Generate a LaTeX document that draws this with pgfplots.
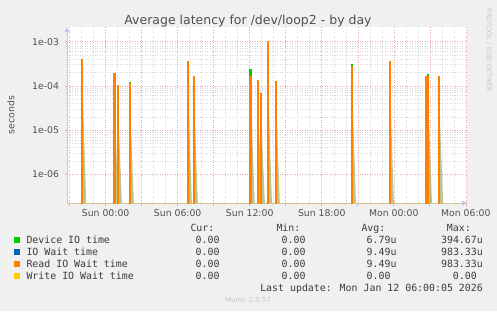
\documentclass[border=0pt]{standalone}
\usepackage{fontspec}
\setmainfont{DejaVu Sans}
\newfontfamily\monofont{DejaVu Sans Mono}
\usepackage{pgfplots}
\pgfplotsset{compat=1.18}
\usetikzlibrary{arrows.meta}
\definecolor{bg}{HTML}{F0F0F0}
\definecolor{txt}{HTML}{505050}
\definecolor{legtxt}{HTML}{3C3C3C}
\definecolor{devc}{HTML}{00CC00}
\definecolor{waitc}{HTML}{0066B3}
\definecolor{readc}{HTML}{FF8000}
\definecolor{writec}{HTML}{FFCC00}
\definecolor{majgrid}{HTML}{E8A8A8}
\definecolor{mingrid}{HTML}{D8D8D8}
\definecolor{axisblue}{HTML}{C0C8E8}
\definecolor{axistan}{HTML}{DCC896}
\definecolor{olive}{HTML}{8CA040}
\begin{document}
\begin{tikzpicture}[x=1pt,y=1pt]
\fill[bg] (0,0) rectangle (497,311);
\useasboundingbox (0,0) rectangle (497,311);
\begin{axis}[
  at={(67pt,108pt)}, anchor=south west,
  scale only axis, width=400pt, height=176pt,
  xmin=-3.22, xmax=30.1,
  ymode=log, ymin=2.25e-7, ymax=2.14e-3,
  axis lines=left,
  axis background/.style={fill=white},
  x axis line style={draw=axistan, line width=1pt, -{Triangle[width=5pt,length=5pt,color=axisblue,fill=axisblue]}},
  y axis line style={draw=axisblue, line width=0.8pt, -{Triangle[width=5pt,length=5pt,color=axisblue,fill=axisblue]}},
  xtick={-3,0,3,6,9,12,15,18,21,24,27,30},
  xticklabels={,Sun 00:00,,Sun 06:00,,Sun 12:00,,Sun 18:00,,Mon 00:00,,Mon 06:00},
  minor x tick num=2,
  ytick={1e-6,1e-5,1e-4,1e-3},
  yticklabels={1e-06,1e-05,1e-04,1e-03},
  xmajorgrids, xminorgrids, ymajorgrids, yminorgrids,
  major grid style={draw=majgrid, dash pattern=on 1pt off 1.5pt, line width=0.5pt},
  minor grid style={draw=mingrid, dash pattern=on 1pt off 1.5pt, line width=0.5pt},
  tick align=outside,
  major tick length=2.5pt, minor tick length=1.5pt,
  major tick style={draw=majgrid, line width=0.6pt},
  minor tick style={draw=mingrid, line width=0.6pt},
  ticklabel style={font=\fontsize{9.3}{10}\selectfont, text=txt},
  xticklabel style={yshift=-1pt},
  yticklabel style={xshift=-2pt},
  clip=true,
]
% olive wedges (Device IO time shading)
\addplot[draw=none, fill=olive, fill opacity=0.6] coordinates {
(-2.00,2.25e-7)(-2.00,3.95e-4)(-1.62,2.25e-7)
(0.67,2.25e-7)(0.67,1.6e-4)(1.05,2.25e-7)
(0.97,2.25e-7)(0.97,9e-5)(1.35,2.25e-7)
(1.97,2.25e-7)(1.97,1.16e-4)(2.35,2.25e-7)
(6.80,2.25e-7)(6.80,3.0e-4)(7.18,2.25e-7)
(7.30,2.25e-7)(7.30,1.4e-4)(7.68,2.25e-7)
(12.03,2.25e-7)(12.03,2.38e-4)(12.41,2.25e-7)
(12.63,2.25e-7)(12.63,1.2e-4)(13.01,2.25e-7)
(12.88,2.25e-7)(12.88,6e-5)(13.26,2.25e-7)
(13.47,2.25e-7)(13.47,3.5e-4)(13.85,2.25e-7)
(14.13,2.25e-7)(14.13,1.1e-4)(14.51,2.25e-7)
(20.47,2.25e-7)(20.47,2.98e-4)(20.85,2.25e-7)
(23.63,2.25e-7)(23.63,3.2e-4)(24.01,2.25e-7)
(26.63,2.25e-7)(26.63,1.5e-4)(27.01,2.25e-7)
(26.80,2.25e-7)(26.80,1.78e-4)(27.18,2.25e-7)
(27.72,2.25e-7)(27.72,1.5e-4)(28.10,2.25e-7)
} -- cycle;
% Device IO time
\addplot[devc, line width=1.3pt] coordinates {
(-2.00,1e-9)(-2.00,3.95e-4)(-1.90,3.95e-4)(-1.90,1e-9)
(0.67,1e-9)(0.67,1.6e-4)(0.77,1.6e-4)(0.77,1e-9)
(0.97,1e-9)(0.97,9e-5)(1.07,9e-5)(1.07,1e-9)
(1.97,1e-9)(1.97,1.16e-4)(2.07,1.16e-4)(2.07,1e-9)
(6.80,1e-9)(6.80,3.0e-4)(6.90,3.0e-4)(6.90,1e-9)
(7.30,1e-9)(7.30,1.4e-4)(7.40,1.4e-4)(7.40,1e-9)
(12.03,1e-9)(12.03,2.38e-4)(12.13,2.38e-4)(12.13,1e-9)
(12.63,1e-9)(12.63,1.2e-4)(12.73,1.2e-4)(12.73,1e-9)
(12.88,1e-9)(12.88,6e-5)(12.98,6e-5)(12.98,1e-9)
(13.47,1e-9)(13.47,3.5e-4)(13.57,3.5e-4)(13.57,1e-9)
(14.13,1e-9)(14.13,1.1e-4)(14.23,1.1e-4)(14.23,1e-9)
(20.47,1e-9)(20.47,2.98e-4)(20.57,2.98e-4)(20.57,1e-9)
(23.63,1e-9)(23.63,3.2e-4)(23.73,3.2e-4)(23.73,1e-9)
(26.63,1e-9)(26.63,1.5e-4)(26.73,1.5e-4)(26.73,1e-9)
(26.80,1e-9)(26.80,1.78e-4)(26.90,1.78e-4)(26.90,1e-9)
(27.72,1e-9)(27.72,1.5e-4)(27.82,1.5e-4)(27.82,1e-9)
};
% IO Wait time (same as Read IO Wait time)
\addplot[waitc, line width=1.3pt] coordinates {
(-2.00,1e-9)(-2.00,4.0e-4)(-1.90,4.0e-4)(-1.90,1e-9)
(0.67,1e-9)(0.67,1.87e-4)(0.77,1.87e-4)(0.77,1e-9)
(0.97,1e-9)(0.97,1.02e-4)(1.07,1.02e-4)(1.07,1e-9)
(1.97,1e-9)(1.97,1.11e-4)(2.07,1.11e-4)(2.07,1e-9)
(6.80,1e-9)(6.80,3.48e-4)(6.90,3.48e-4)(6.90,1e-9)
(7.30,1e-9)(7.30,1.58e-4)(7.40,1.58e-4)(7.40,1e-9)
(12.03,1e-9)(12.03,1.63e-4)(12.13,1.63e-4)(12.13,1e-9)
(12.63,1e-9)(12.63,1.30e-4)(12.73,1.30e-4)(12.73,1e-9)
(12.88,1e-9)(12.88,6.6e-5)(12.98,6.6e-5)(12.98,1e-9)
(13.47,1e-9)(13.47,9.83e-4)(13.57,9.83e-4)(13.57,1e-9)
(14.13,1e-9)(14.13,1.23e-4)(14.23,1.23e-4)(14.23,1e-9)
(20.47,1e-9)(20.47,2.68e-4)(20.57,2.68e-4)(20.57,1e-9)
(23.63,1e-9)(23.63,3.48e-4)(23.73,3.48e-4)(23.73,1e-9)
(26.63,1e-9)(26.63,1.60e-4)(26.73,1.60e-4)(26.73,1e-9)
(26.80,1e-9)(26.80,1.60e-4)(26.90,1.60e-4)(26.90,1e-9)
(27.72,1e-9)(27.72,1.60e-4)(27.82,1.60e-4)(27.82,1e-9)
};
% Read IO Wait time
\addplot[readc, line width=1.3pt] coordinates {
(-2.00,1e-9)(-2.00,4.0e-4)(-1.90,4.0e-4)(-1.90,1e-9)
(0.67,1e-9)(0.67,1.87e-4)(0.77,1.87e-4)(0.77,1e-9)
(0.97,1e-9)(0.97,1.02e-4)(1.07,1.02e-4)(1.07,1e-9)
(1.97,1e-9)(1.97,1.11e-4)(2.07,1.11e-4)(2.07,1e-9)
(6.80,1e-9)(6.80,3.48e-4)(6.90,3.48e-4)(6.90,1e-9)
(7.30,1e-9)(7.30,1.58e-4)(7.40,1.58e-4)(7.40,1e-9)
(12.03,1e-9)(12.03,1.63e-4)(12.13,1.63e-4)(12.13,1e-9)
(12.63,1e-9)(12.63,1.30e-4)(12.73,1.30e-4)(12.73,1e-9)
(12.88,1e-9)(12.88,6.6e-5)(12.98,6.6e-5)(12.98,1e-9)
(13.47,1e-9)(13.47,9.83e-4)(13.57,9.83e-4)(13.57,1e-9)
(14.13,1e-9)(14.13,1.23e-4)(14.23,1.23e-4)(14.23,1e-9)
(20.47,1e-9)(20.47,2.68e-4)(20.57,2.68e-4)(20.57,1e-9)
(23.63,1e-9)(23.63,3.48e-4)(23.73,3.48e-4)(23.73,1e-9)
(26.63,1e-9)(26.63,1.60e-4)(26.73,1.60e-4)(26.73,1e-9)
(26.80,1e-9)(26.80,1.60e-4)(26.90,1.60e-4)(26.90,1e-9)
(27.72,1e-9)(27.72,1.60e-4)(27.82,1.60e-4)(27.82,1e-9)
};
\end{axis}
% title and labels
\node[font=\fontsize{12.5}{14}\selectfont, text=txt, anchor=base] at (248,286) {Average latency for /dev/loop2 - by day};
\node[font=\fontsize{9.3}{10}\selectfont, text=txt, rotate=90] at (11,196) {seconds};
\node[font=\fontsize{6.5}{7}\selectfont, text=black!22, rotate=-90, anchor=west] at (489,306) {RRDTOOL / TOBI OETIKER};
% legend
\begin{scope}[every node/.style={font=\monofont\fontsize{9.9}{11}\selectfont, text=legtxt, inner sep=0pt}]
\node[anchor=base west] at (190.3,79.1) {Cur:};
\node[anchor=base west] at (276.3,79.1) {Min:};
\node[anchor=base west] at (361.3,79.1) {Avg:};
\node[anchor=base west] at (446.7,79.1) {Max:};
\fill[devc] (14,68.5) rectangle (20,74.5);
\fill[waitc] (14,56.5) rectangle (20,62.5);
\fill[readc] (14,44.5) rectangle (20,50.5);
\fill[writec] (14,32.5) rectangle (20,38.5);
\node[anchor=base west] at (26.3,67.7) {Device IO time};
\node[anchor=base west] at (26.3,55.7) {IO Wait time};
\node[anchor=base west] at (26.3,43.7) {Read IO Wait time};
\node[anchor=base west] at (26.3,31.7) {Write IO Wait time};
\foreach \yy in {67.7,55.7,43.7,31.7}{
  \node[anchor=base east] at (219.7,\yy) {0.00};
  \node[anchor=base east] at (305.7,\yy) {0.00};
}
\node[anchor=base east] at (396.7,67.7) {6.79u};
\node[anchor=base east] at (396.7,55.7) {9.49u};
\node[anchor=base east] at (396.7,43.7) {9.49u};
\node[anchor=base east] at (390.7,31.7) {0.00};
\node[anchor=base east] at (483,67.7) {394.67u};
\node[anchor=base east] at (483,55.7) {983.33u};
\node[anchor=base east] at (483,43.7) {983.33u};
\node[anchor=base east] at (477,31.7) {0.00};
\node[anchor=base east] at (483,19.7) {Last update: Mon Jan 12 06:00:05 2026};
\end{scope}
\node[font=\fontsize{7}{8}\selectfont, text=black!22, anchor=base] at (248,8.5) {Munin 2.0.57};
\end{tikzpicture}
\end{document}
